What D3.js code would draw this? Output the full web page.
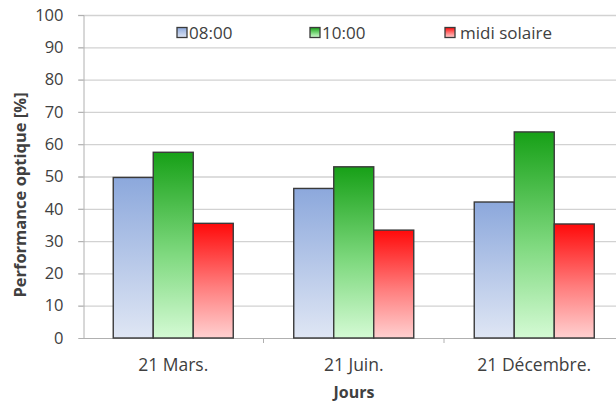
<!DOCTYPE html>
<html>
<head>
<meta charset="utf-8">
<script src="https://cdn.jsdelivr.net/npm/d3@7"></script>
<style>
  html, body { margin: 0; padding: 0; background: #fff; }
  svg { display: block; }
  text { font-family: "Open Sans", Lato, sans-serif; fill: #404040; }
</style>
</head>
<body>
<svg id="chart" width="616" height="405"></svg>
<script>
// Optical performance per day and hour
const days = ["21 Mars.", "21 Juin.", "21 Décembre."];
const seriesNames = ["08:00", "10:00", "midi solaire"];
const values0800 = [49.7, 46.3, 42.1];
const values1000 = [57.5, 53.0, 63.8];
const valuesMidi = [35.5, 33.4, 35.3];
const yTicks = [0, 10, 20, 30, 40, 50, 60, 70, 80, 90, 100];

const svg = d3.select("#chart");
const margin = { left: 83, top: 15, plotRight: 624.5, bottom: 338 };

const x0 = d3.scaleBand().domain(days).range([margin.left, margin.plotRight]).paddingInner(0).paddingOuter(0);
const x1 = d3.scaleBand().domain(seriesNames).range([0, x0.bandwidth()]).paddingInner(0).paddingOuter(0.756);
const y = d3.scaleLinear().domain([0, 100]).range([margin.bottom, margin.top]);

// gradients for the bars
const defs = svg.append("defs");
const grads = [
  { id: "g0", top: "#8ca8dc", bottom: "#dfe6f4" },
  { id: "g1", top: "#17a017", mid: "#7fd97f", bottom: "#d4fad4" },
  { id: "g2", top: "#ff0a0a", mid: "#ff7d7d", bottom: "#ffd0d0" }
];
grads.forEach(g => {
  const lg = defs.append("linearGradient").attr("id", g.id)
    .attr("x1", 0).attr("y1", 0).attr("x2", 0).attr("y2", 1);
  lg.append("stop").attr("offset", "0%").attr("stop-color", g.top);
  if (g.mid) lg.append("stop").attr("offset", "55%").attr("stop-color", g.mid);
  lg.append("stop").attr("offset", "100%").attr("stop-color", g.bottom);
});

// gridlines
svg.append("g")
  .selectAll("line").data(yTicks.filter(d => d > 0)).join("line")
  .attr("x1", margin.left - 5).attr("x2", 616)
  .attr("y1", d => y(d) + 0.5).attr("y2", d => y(d) + 0.5)
  .attr("stroke", "#d2d2d2").attr("stroke-width", 1.3);

// y axis
const yAxis = svg.append("g").attr("transform", `translate(${margin.left + 0.5},0)`)
  .call(d3.axisLeft(y).tickValues(yTicks).tickSize(5).tickPadding(15));
yAxis.select(".domain").attr("stroke", "#b0b0b0");
yAxis.selectAll(".tick line").attr("stroke", "#b0b0b0");
yAxis.selectAll(".tick text").style("font-size", "16.5px").attr("fill", "#404040");

// x axis
const xAxis = svg.append("g").attr("transform", `translate(0,${margin.bottom + 0.5})`)
  .call(d3.axisBottom(x0).tickSize(0).tickPadding(20));
xAxis.select(".domain").attr("stroke", "#b0b0b0").attr("d", `M${margin.left},0H616`);
xAxis.selectAll(".tick text").style("font-size", "17.5px").attr("fill", "#404040");
// category separators
svg.append("g").selectAll("line").data(days.slice(1)).join("line")
  .attr("x1", d => x0(d)).attr("x2", d => x0(d))
  .attr("y1", margin.bottom).attr("y2", margin.bottom + 5)
  .attr("stroke", "#b0b0b0");

// bars
const allSeries = [values0800, values1000, valuesMidi];
const rows = [];
days.forEach((d, i) => allSeries.forEach((s, j) => rows.push({ day: d, series: seriesNames[j], j, v: s[i] })));
svg.append("g").selectAll("rect").data(rows).join("rect")
  .attr("x", d => x0(d.day) + x1(d.series))
  .attr("y", d => y(d.v))
  .attr("width", x1.bandwidth())
  .attr("height", d => y(0) - y(d.v))
  .attr("fill", d => `url(#g${d.j})`)
  .attr("stroke", "#3a3a3a").attr("stroke-width", 1.4);

// legend
const legendX = [177, 310, 445];
const legendGap = [12, 12, 15];
const lg = svg.append("g");
seriesNames.forEach((n, j) => {
  lg.append("rect").attr("x", legendX[j]).attr("y", 27.5).attr("width", 10).attr("height", 10)
    .attr("fill", `url(#g${j})`).attr("stroke", "#3a3a3a").attr("stroke-width", 1.3);
  lg.append("text").attr("x", legendX[j] + legendGap[j]).attr("y", 38.5)
    .style("font-size", "17px").text(n);
});

// axis titles
svg.append("text").attr("transform", "translate(26,195) rotate(-90)")
  .attr("text-anchor", "middle").style("font-size", "16.5px").style("font-weight", "bold")
  .attr("fill", "#333").text("Performance optique [%]");
svg.append("text").attr("x", 354).attr("y", 398)
  .attr("text-anchor", "middle").style("font-size", "16px").style("font-weight", "bold")
  .attr("fill", "#333").text("Jours");
</script>
</body>
</html>
